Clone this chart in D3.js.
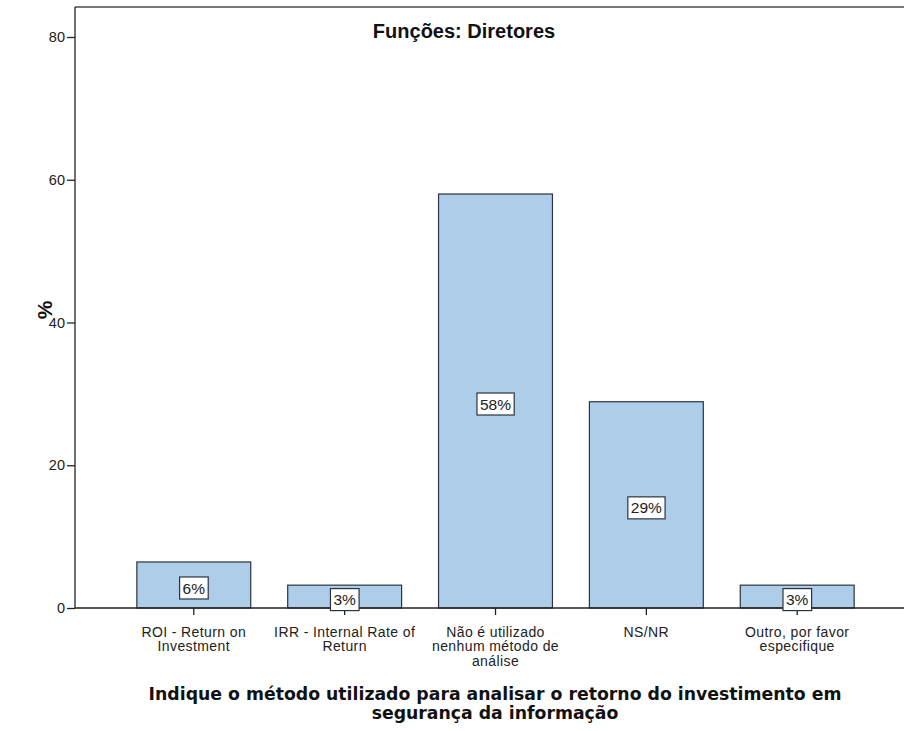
<!DOCTYPE html>
<html><head><meta charset="utf-8">
<script src="https://cdn.jsdelivr.net/npm/d3@7"></script>
<style>body{margin:0;background:#fff}svg{display:block}</style>
</head><body><svg id="c" width="904" height="731"></svg>
<script>
const categories = [
  ["ROI - Return on", "Investment"],
  ["IRR - Internal Rate of", "Return"],
  ["Não é utilizado", "nenhum método de", "análise"],
  ["NS/NR"],
  ["Outro, por favor", "especifique"]
];
const values = [6.45, 3.2, 58.0, 28.9, 3.2];
const valueLabels = ["6%", "3%", "58%", "29%", "3%"];
const yTicks = [0, 20, 40, 60, 80];
const chartTitle = "Funções: Diretores";
const yTitle = "%";
const xTitle = ["Indique o método utilizado para analisar o retorno do investimento em", "segurança da informação"];

(function () {
const svg = d3.select("#c");
const mLeft = 75, mTop = 7, mRight = 916, mBottom = 608;
const ids = categories.map((d, i) => i);
const x = d3.scaleBand().domain(ids).range([mLeft, mRight]).paddingInner(0.245).paddingOuter(0.41);
const y = d3.scaleLinear().domain([0, 80]).range([mBottom, 37]);
const font = "Arial, 'Liberation Sans', sans-serif";

// frame top
svg.append("line").attr("x1", mLeft).attr("x2", 904).attr("y1", mTop).attr("y2", mTop)
  .attr("stroke", "#777").attr("stroke-width", 2);

// bars
svg.selectAll("rect.bar").data(values).join("rect").attr("class", "bar")
  .attr("x", (d, i) => x(i)).attr("width", x.bandwidth())
  .attr("y", d => y(d)).attr("height", d => y(0) - y(d))
  .attr("fill", "#aecde9").attr("stroke", "#2a3440").attr("stroke-width", 1.2);

// y axis
const yAxis = d3.axisLeft(y).tickValues(yTicks).tickSize(8).tickSizeOuter(0).tickPadding(2);
const ga = svg.append("g").attr("transform", `translate(${mLeft},0)`).call(yAxis);
ga.select(".domain").remove();
ga.selectAll(".tick line").attr("stroke", "#222").attr("stroke-width", 1.3);
ga.selectAll(".tick text").attr("font-family", font).attr("font-size", 14.5).attr("fill", "#222");
svg.append("line").attr("x1", mLeft).attr("x2", mLeft).attr("y1", mTop).attr("y2", mBottom)
  .attr("stroke", "#222").attr("stroke-width", 1.3);

// x axis
const xAxis = d3.axisBottom(x).tickSize(7).tickSizeOuter(0).tickFormat("");
const gx = svg.append("g").attr("transform", `translate(0,${mBottom})`).call(xAxis);
gx.select(".domain").remove();
gx.selectAll(".tick line").attr("stroke", "#222").attr("stroke-width", 1.3);
svg.append("line").attr("x1", mLeft).attr("x2", 904).attr("y1", mBottom).attr("y2", mBottom)
  .attr("stroke", "#222").attr("stroke-width", 1.3);

// x tick labels
categories.forEach((lines, i) => {
  const t = svg.append("text").attr("font-family", font).attr("font-size", 14).attr("letter-spacing", 0.4)
    .attr("fill", "#222").attr("text-anchor", "middle");
  lines.forEach((l, k) => t.append("tspan").attr("x", x(i) + x.bandwidth() / 2).attr("y", 637 + k * 14.3).text(l));
});

// value labels
const lg = svg.selectAll("g.lab").data(values).join("g").attr("class", "lab")
  .attr("transform", (d, i) => `translate(${x(i) + x.bandwidth() / 2},${(y(d) + y(0)) / 2 + 3})`);
lg.append("text").attr("font-family", font).attr("font-size", 15.5).attr("fill", "#222")
  .attr("text-anchor", "middle").attr("dy", "0.36em").text((d, i) => valueLabels[i]);
lg.each(function () {
  const g = d3.select(this);
  const b = g.select("text").node().getBBox();
  g.insert("rect", "text").attr("x", b.x - 3).attr("y", -11).attr("width", b.width + 6).attr("height", 22)
    .attr("fill", "#fff").attr("stroke", "#2a3440").attr("stroke-width", 1.2);
});

// title
svg.append("text").attr("x", 464).attr("y", 38).attr("text-anchor", "middle")
  .attr("font-family", font).attr("font-weight", "bold").attr("font-size", 20).attr("fill", "#111").text(chartTitle);

// y title
svg.append("text").attr("transform", "translate(52,310) rotate(-90)").attr("text-anchor", "middle")
  .attr("font-family", font).attr("font-weight", "bold").attr("font-size", 21).attr("fill", "#111").text(yTitle);

// x title
const xt = svg.append("text").attr("text-anchor", "middle").attr("font-family", "'DejaVu Sans', sans-serif")
  .attr("font-weight", "bold").attr("font-size", 17.3).attr("fill", "#111");
xTitle.forEach((l, k) => xt.append("tspan").attr("x", 495).attr("y", 700 + k * 19).text(l));
})();
</script></body></html>
